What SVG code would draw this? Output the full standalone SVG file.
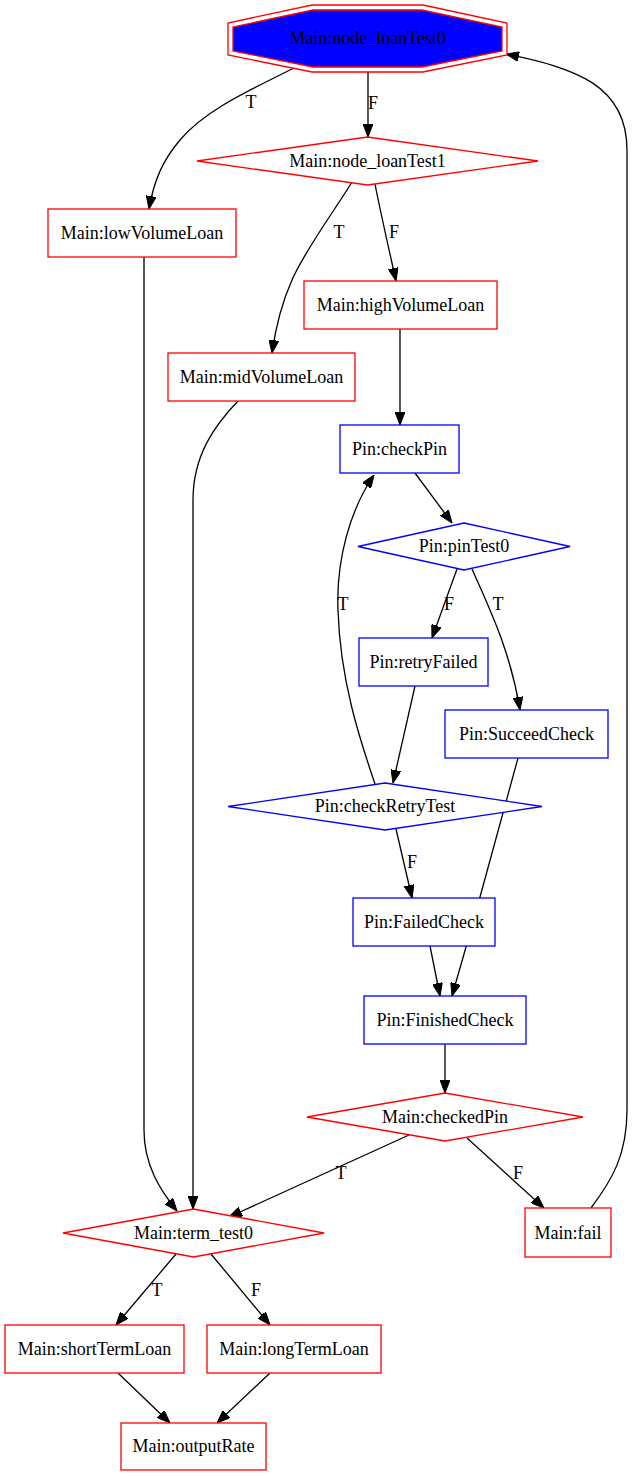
<svg xmlns="http://www.w3.org/2000/svg" width="633" height="1476" viewBox="0 0 633 1476">
  <style>
    text { font-family: "Liberation Serif", "Times New Roman", serif; font-size: 18px; fill: #000; text-anchor: middle; }
    .main { fill: #fff; stroke: #ff0000; stroke-width: 1.3; }
    .pin { fill: #fff; stroke: #0000ff; stroke-width: 1.3; }
    .edge { fill: none; stroke: #000; stroke-width: 1.3; marker-end: url(#arrow); }
  </style>
  <defs>
    <marker id="arrow" viewBox="0 0 13 10" refX="13" refY="5" markerWidth="13" markerHeight="10" markerUnits="userSpaceOnUse" orient="auto">
      <path d="M0,0 L13,5 L0,10 z" fill="#000" stroke="#000" stroke-width="1"/>
    </marker>
  </defs>
  <rect width="633" height="1476" fill="#fff"/>

  <!-- connectors -->
  <g id="edges">
    <path class="edge" d="M298,66 C250,90 205,110 180,140 C163,160 154,180 149,209"/>
    <text x="251" y="108">T</text>
    <path class="edge" d="M368,72 L368,137"/>
    <text x="373" y="109">F</text>
    <path class="edge" d="M352,182 C335,210 305,250 292,280 C283,300 276,325 272,353"/>
    <text x="339" y="238">T</text>
    <path class="edge" d="M375,184 C380,210 388,245 396,281"/>
    <text x="394" y="238">F</text>
    <path class="edge" d="M400,329 L400,425"/>
    <path class="edge" d="M238,401 C215,425 193,455 193,500 L193,1209"/>
    <path class="edge" d="M144,257 L144,1130 C144,1165 160,1190 177,1211"/>
    <path class="edge" d="M415,473 L452,523"/>
    <path class="edge" d="M457,569 L432,638"/>
    <text x="449" y="610">F</text>
    <path class="edge" d="M472,569 C490,610 510,650 520,710"/>
    <text x="498" y="610">T</text>
    <path class="edge" d="M415,686 L393,783"/>
    <path class="edge" d="M375,784 C360,740 340,680 338,610 C336,560 350,510 374,475"/>
    <text x="343" y="610">T</text>
    <path class="edge" d="M396,829 L412,898"/>
    <text x="412" y="868">F</text>
    <path class="edge" d="M518,758 L480,897 C476,912 470,930 466,947 L452,996"/>
    <path class="edge" d="M430,946 L440,996"/>
    <path class="edge" d="M445,1044 L445,1093"/>
    <path class="edge" d="M409,1135 L229,1217"/>
    <text x="341" y="1179">T</text>
    <path class="edge" d="M467,1138 L544,1208"/>
    <text x="518" y="1179">F</text>
    <path class="edge" d="M591,1208 C612,1180 627,1155 627,1110 L627,150 C627,85 575,68 506,54"/>
    <path class="edge" d="M176,1254 L116,1325"/>
    <text x="157" y="1296">T</text>
    <path class="edge" d="M211,1254 L270,1325"/>
    <text x="256" y="1296">F</text>
    <path class="edge" d="M118,1373 L170,1423"/>
    <path class="edge" d="M270,1373 L217,1423"/>
  </g>

  <!-- nodes -->
  <g id="node_loanTest0">
    <polygon points="312,5 423,5 507,23 507,55 423,72 312,72 228,55 228,23" fill="#fff" stroke="#ff0000" stroke-width="1.3"/>
    <polygon points="313,10 422,10 502,27 502,51 422,67 313,67 233,51 233,27" fill="#0000ff" stroke="#ff0000" stroke-width="1.3"/>
    <text x="367.5" y="44">Main:node_loanTest0</text>
  </g>
  <g id="node_loanTest1">
    <polygon class="main" points="367.5,137 538,161 367.5,185 197,161"/>
    <text x="367.5" y="167">Main:node_loanTest1</text>
  </g>
  <g id="lowVolumeLoan">
    <rect class="main" x="48" y="209" width="188" height="48"/>
    <text x="142" y="239">Main:lowVolumeLoan</text>
  </g>
  <g id="highVolumeLoan">
    <rect class="main" x="304" y="281" width="193" height="48"/>
    <text x="400.5" y="311">Main:highVolumeLoan</text>
  </g>
  <g id="midVolumeLoan">
    <rect class="main" x="168" y="353" width="187" height="48"/>
    <text x="261.5" y="383">Main:midVolumeLoan</text>
  </g>
  <g id="checkPin">
    <rect class="pin" x="340" y="425" width="119" height="48"/>
    <text x="399.5" y="455">Pin:checkPin</text>
  </g>
  <g id="pinTest0">
    <polygon class="pin" points="464,523 570,546.5 464,570 358,546.5"/>
    <text x="464" y="552">Pin:pinTest0</text>
  </g>
  <g id="retryFailed">
    <rect class="pin" x="359" y="638" width="129" height="48"/>
    <text x="423.5" y="668">Pin:retryFailed</text>
  </g>
  <g id="SucceedCheck">
    <rect class="pin" x="445" y="710" width="163" height="48"/>
    <text x="526.5" y="740">Pin:SucceedCheck</text>
  </g>
  <g id="checkRetryTest">
    <polygon class="pin" points="385,783 542,806.5 385,830 228,806.5"/>
    <text x="385" y="812">Pin:checkRetryTest</text>
  </g>
  <g id="FailedCheck">
    <rect class="pin" x="353" y="898" width="142" height="48"/>
    <text x="424" y="928">Pin:FailedCheck</text>
  </g>
  <g id="FinishedCheck">
    <rect class="pin" x="364" y="996" width="162" height="48"/>
    <text x="445" y="1026">Pin:FinishedCheck</text>
  </g>
  <g id="checkedPin">
    <polygon class="main" points="445,1093 583,1117 445,1141 307,1117"/>
    <text x="445" y="1123">Main:checkedPin</text>
  </g>
  <g id="term_test0">
    <polygon class="main" points="193.5,1209 324,1233 193.5,1257 63,1233"/>
    <text x="193.5" y="1239">Main:term_test0</text>
  </g>
  <g id="fail">
    <rect class="main" x="525" y="1208" width="86" height="49"/>
    <text x="568" y="1239">Main:fail</text>
  </g>
  <g id="shortTermLoan">
    <rect class="main" x="5" y="1325" width="179" height="48"/>
    <text x="94.5" y="1355">Main:shortTermLoan</text>
  </g>
  <g id="longTermLoan">
    <rect class="main" x="207" y="1325" width="174" height="48"/>
    <text x="294" y="1355">Main:longTermLoan</text>
  </g>
  <g id="outputRate">
    <rect class="main" x="121" y="1423" width="145" height="47"/>
    <text x="193.5" y="1452">Main:outputRate</text>
  </g>
</svg>
